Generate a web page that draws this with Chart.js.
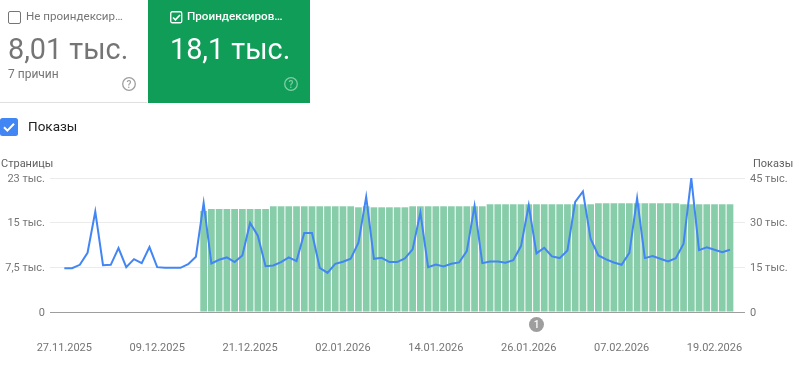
<!DOCTYPE html>
<html lang="ru">
<head>
<meta charset="utf-8">
<style>
html,body{margin:0;padding:0;background:#fff;width:804px;height:366px;overflow:hidden;font-family:Roboto,sans-serif}
#c{position:absolute;left:0;top:0}
.t{position:absolute;white-space:nowrap;line-height:1}
.card{position:absolute;top:0;height:103px}
.box{position:absolute;box-sizing:border-box}
svg{position:absolute}
</style>
<script src="https://cdn.jsdelivr.net/npm/chart.js@4/dist/chart.umd.min.js"></script>
</head>
<body>
<canvas id="c" width="804" height="366"></canvas>
<div class="card" style="left:0;width:147px;border-bottom:1px solid #e0e0e0;height:102px"></div>
<div class="card" style="left:148px;width:162px;background:#0f9d58"></div>
<div class="box" style="left:8px;top:11px;width:13px;height:13px;border:1.5px solid #757575;border-radius:2px"></div>
<div class="t" style="left:26px;top:11px;font-size:11.6px;color:#757575">Не проиндексир…</div>
<div class="t" style="left:8px;top:35px;font-size:28.8px;color:#757575">8,01 тыс.</div>
<div class="t" style="left:8px;top:68px;font-size:12px;color:#757575">7 причин</div>
<svg style="left:121px;top:76px" width="16" height="16" viewBox="0 0 16 16"><circle cx="8" cy="8" r="6.3" fill="none" stroke="#9e9e9e" stroke-width="1.3"/><text x="8" y="11.5" font-size="10" font-weight="500" text-anchor="middle" fill="#9e9e9e" font-family="Roboto">?</text></svg>
<svg style="left:170px;top:11px" width="13" height="13" viewBox="0 0 13 13"><rect x=".75" y=".75" width="11" height="11" rx="1.5" fill="none" stroke="#fff" stroke-width="1.3"/><path d="M3 6.5l2.4 2.4L10 4" fill="none" stroke="#fff" stroke-width="1.7"/></svg>
<div class="t" style="left:187px;top:11px;font-size:11.7px;font-weight:500;color:#fff">Проиндексиров…</div>
<div class="t" style="left:170px;top:35px;font-size:28.8px;color:#fff">18,1 тыс.</div>
<svg style="left:283px;top:76px" width="16" height="16" viewBox="0 0 16 16"><circle cx="8" cy="8" r="6.3" fill="none" stroke="#7fcea8" stroke-width="1.3"/><text x="8" y="11.5" font-size="10" font-weight="500" text-anchor="middle" fill="#7fcea8" font-family="Roboto">?</text></svg>
<svg style="left:0;top:118px" width="18" height="18" viewBox="0 0 18 18"><rect width="18" height="18" rx="2.5" fill="#4285f4"/><path d="M4 9.2l3.4 3.4L14 5.8" fill="none" stroke="#fff" stroke-width="2"/></svg>
<div class="t" style="left:28px;top:120px;font-size:13.5px;color:#212121">Показы</div>
<div class="t" style="left:1px;top:158px;font-size:11px;color:#616161">Страницы</div>
<div class="t" style="left:753px;top:158px;font-size:11px;color:#616161">Показы</div>
<script>
const tickIndexes = [0,12,24,36,48,60,72,84];
const tickLabels = ["27.11.2025","09.12.2025","21.12.2025","02.01.2026","14.01.2026","26.01.2026","07.02.2026","19.02.2026"];
const leftTicks = {0:"0",7500:"7,5 тыс.",15000:"15 тыс.",22500:"23 тыс."};
const rightTicks = {0:"0",15000:"15 тыс.",30000:"30 тыс.",45000:"45 тыс."};
const impressions = [14720,14720,15850,19890,33720,15740,15850,21470,15060,17760,16410,21810,15060,14840,14840,14840,16070,18550,36640,16300,17530,18320,16750,19000,29900,25630,15400,15620,16750,18320,17080,26530,26530,14840,13150,16190,16860,17870,23270,38670,17870,18210,16750,16750,17980,21020,33380,15060,15960,15290,16190,16640,20460,35630,16410,16970,16970,16520,17420,22140,35860,19670,21580,18660,18100,20680,36980,40460,24500,19000,17650,16640,15850,19890,38220,18100,18770,17870,16970,18100,22930,44960,20790,21690,20910,20120,20910];
const indexed = [null,null,null,null,null,null,null,null,null,null,null,null,null,null,null,null,null,null,16970,17300,17300,17300,17300,17300,17300,17300,17300,17750,17750,17750,17750,17750,17750,17750,17750,17750,17750,17750,17580,17750,17580,17580,17580,17580,17580,17750,17750,17750,17750,17750,17750,17750,17750,17750,17750,18090,18090,18090,18090,18090,18090,18090,18090,18090,18090,18090,18090,18090,18090,18260,18260,18260,18260,18260,18260,18260,18260,18260,18260,18260,18090,18090,18090,18090,18090,18090,18090];
const annotationIndex = 61;
const annotationLabel = "1";

const badge = {
  id:"badge",
  afterDraw(ch){
    const c=ch.ctx, x=ch.scales.x.getPixelForValue(annotationIndex), y=ch.scales.x.top+12.5;
    c.save();c.fillStyle="#9e9e9e";c.beginPath();c.arc(x,y,7.5,0,Math.PI*2);c.fill();
    c.fillStyle="#fff";c.font="500 10px Roboto";c.textAlign="center";c.textBaseline="middle";c.fillText(annotationLabel,x,y+.5);c.restore();
  }
};
const font={family:"Roboto",size:11};
new Chart(document.getElementById("c"),{
  data:{datasets:[
    {type:"line",order:0,yAxisID:"y1",data:impressions.map((v,i)=>({x:i,y:v})),borderColor:"#4285f4",borderWidth:2,pointRadius:0,tension:0,borderJoinStyle:"miter"},
    {type:"bar",order:1,yAxisID:"y",data:indexed.map((v,i)=>({x:i,y:v})),backgroundColor:"#88cdaa",barPercentage:.87,categoryPercentage:1}
  ]},
  plugins:[badge],
  options:{
    responsive:false,animation:false,
    layout:{padding:{top:178,left:0,right:0,bottom:0}},
    plugins:{legend:{display:false},tooltip:{enabled:false}},
    scales:{
      x:{type:"linear",offset:false,min:-1.85,max:87.94,
        afterBuildTicks(s){s.ticks=tickIndexes.map(v=>({value:v}));},
        afterFit(s){s.height=54;},
        grid:{display:false,tickLength:0},border:{display:false},
        ticks:{autoSkip:false,maxRotation:0,padding:30,color:"#757575",font,callback:v=>tickLabels[tickIndexes.indexOf(v)]}
      },
      y:{position:"left",min:0,max:22500,
        afterFit(s){s.width=50;},
        afterBuildTicks(s){s.ticks=Object.keys(leftTicks).map(v=>({value:+v}));},
        grid:{drawTicks:false,tickLength:0,color:c=>c.tick.value===0?"#9e9e9e":"#ebebeb",lineWidth:1},border:{display:false},
        ticks:{padding:5,labelOffset:1,color:"#757575",font,callback:v=>leftTicks[v]}
      },
      y1:{position:"right",min:0,max:45000,
        afterFit(s){s.width=59;},
        afterBuildTicks(s){s.ticks=Object.keys(rightTicks).map(v=>({value:+v}));},
        grid:{display:false,drawTicks:false,tickLength:0},border:{display:false},
        ticks:{padding:5,labelOffset:1,color:"#757575",font,callback:v=>rightTicks[v]}
      }
    }
  }
});
</script>
</body>
</html>
